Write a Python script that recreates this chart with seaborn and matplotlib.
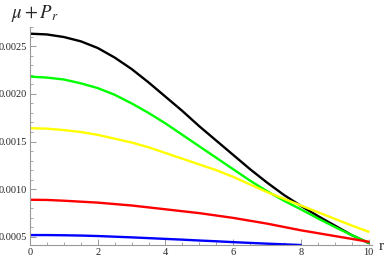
import pandas as pd
import seaborn as sns
import matplotlib.pyplot as plt
from matplotlib.ticker import MultipleLocator, FormatStrFormatter

# values, every half unit of r
r = [0, 0.5, 1, 1.5, 2, 2.5, 3, 3.5, 4, 4.5, 5, 5.5, 6, 6.5, 7, 7.5, 8, 8.5, 9, 9.5, 10]
black = [0.00263, 0.002622, 0.002595, 0.00255, 0.00248, 0.00238, 0.00226, 0.00212, 0.00197,
         0.00182, 0.00166, 0.00151, 0.00136, 0.00121, 0.00107, 0.00094, 0.000826, 0.00072,
         0.00062, 0.00052, 0.000437]
green = [0.00218, 0.00217, 0.00215, 0.00211, 0.00206, 0.00199, 0.00190, 0.00180, 0.00169,
         0.00157, 0.00145, 0.00133, 0.00121, 0.00109, 0.00098, 0.00088, 0.00079, 0.000695,
         0.000605, 0.00052, 0.00044]
yellow = [0.00164, 0.001635, 0.00162, 0.00160, 0.00157, 0.00153, 0.00149, 0.00144, 0.00138,
          0.00132, 0.00126, 0.00120, 0.00113, 0.00105, 0.00097, 0.00090, 0.00083, 0.00076,
          0.00069, 0.00062, 0.000555]
red = [0.00089, 0.000888, 0.00088, 0.00087, 0.00086, 0.000845, 0.00083, 0.00081, 0.00079,
       0.00077, 0.00075, 0.000725, 0.00070, 0.00067, 0.00064, 0.000605, 0.00057, 0.00054,
       0.00051, 0.00048, 0.00045]
# blue runs off the bottom of the plot after r = 8
r_blue = [0, 0.5, 1, 1.5, 2, 2.5, 3, 3.5, 4, 4.5, 5, 5.5, 6, 6.5, 7, 7.5, 8]
blue = [0.00052, 0.00052, 0.000518, 0.000515, 0.00051, 0.000503, 0.000496, 0.000488, 0.00048,
        0.000472, 0.000463, 0.000455, 0.000446, 0.000438, 0.00043, 0.000423, 0.000416]

series = {"black": (r, black), "green": (r, green), "yellow": (r, yellow),
          "red": (r, red), "blue": (r_blue, blue)}
colors = {"black": "#000000", "green": "#00ff00", "yellow": "#ffff00",
          "red": "#ff0000", "blue": "#0000ff"}

rows = []
for name, (xs, ys) in series.items():
    for x, y in zip(xs, ys):
        rows.append({"r": x, "value": y, "series": name})
df = pd.DataFrame(rows)

sns.set_theme(style="white")
plt.rcParams["font.family"] = ["Liberation Serif", "DejaVu Serif"]
plt.rcParams["mathtext.fontset"] = "stix"

fig = plt.figure(figsize=(3.9, 2.6), dpi=100)
ax = fig.add_axes([30 / 390, 15 / 260, 342 / 390, 218 / 260])

sns.lineplot(data=df, x="r", y="value", hue="series", palette=colors,
             hue_order=["black", "green", "yellow", "red", "blue"],
             legend=False, sort=False, linewidth=1.7, ax=ax)

ax.set_xlim(0, 10.1)
ax.set_ylim(0.000416, 0.0027)

for side in ["top", "right"]:
    ax.spines[side].set_visible(False)
for side in ["left", "bottom"]:
    ax.spines[side].set_color("#999999")
    ax.spines[side].set_linewidth(0.8)

ax.xaxis.set_major_locator(MultipleLocator(2))
ax.xaxis.set_minor_locator(MultipleLocator(0.5))
ax.yaxis.set_major_locator(MultipleLocator(0.0005))
ax.yaxis.set_minor_locator(MultipleLocator(0.0001))
ax.yaxis.set_major_formatter(FormatStrFormatter("%.4f"))
ax.tick_params(which="major", direction="in", length=4, width=0.7, color="#999999",
               labelsize=7.5, pad=2)
ax.tick_params(which="minor", direction="in", length=2, width=0.6, color="#999999")
ax.tick_params(axis="both", which="both", bottom=True, left=True)

ax.set_xlabel("")
ax.set_ylabel("")
fig.text(11 / 390, 1 - 13 / 260, r"$\mu+P_r$", fontsize=13.5, va="center", ha="left")
fig.text(379 / 390, 1 - 247 / 260, "r", fontsize=11, va="center", ha="left")

fig.savefig("out.png", dpi=100)
